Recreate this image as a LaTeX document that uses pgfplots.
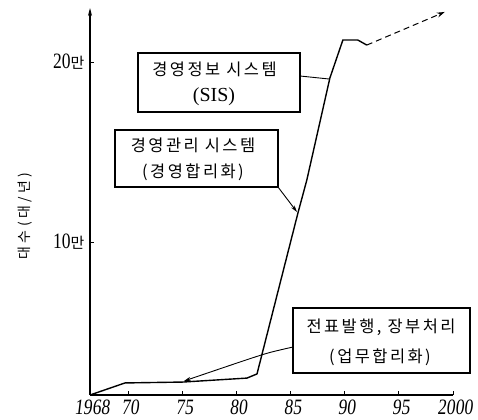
\documentclass[border=0pt]{standalone}
\usepackage{fontspec}
\usepackage{pgfplots}
\pgfplotsset{compat=1.18}
\usetikzlibrary{arrows.meta}
\setmainfont{Liberation Serif}
\newfontfamily\cjk[LetterSpace=15]{Noto Sans CJK KR}
\newfontfamily\tickfont[FakeStretch=0.8]{Liberation Serif}
\newfontfamily\xtickfont[FakeStretch=0.8,FakeSlant=0.12]{Liberation Serif}
\begin{document}
\begin{tikzpicture}[x=1bp,y=1bp]
\useasboundingbox (0,0) rectangle (478,419);
\begin{axis}[at={(90bp,24bp)}, anchor=south west, scale only axis,
  width=363bp, height=387bp,
  xmin=1966.48, xmax=2000, ymin=1.5, ymax=23,
  axis lines=left,
  axis line style={line width=1.2pt},
  x axis line style={-},
  y axis line style={-{Stealth[length=8pt,width=4pt]}},
  xtick={1966.48,1970,1975,1980,1985,1990,1995,2000},
  xticklabels={1968,70,75,80,85,90,95,2000},
  ytick={10,20},
  yticklabels={{\tickfont\fontsize{22}{22}\selectfont 10\cjk\fontsize{15}{15}\selectfont 만},{\tickfont\fontsize{22}{22}\selectfont 20\cjk\fontsize{15}{15}\selectfont 만}},
  tick align=inside, major tick length=4bp,
  tick style={line width=0.8pt, black},
  xticklabel style={font=\xtickfont\fontsize{22}{22}\selectfont, inner sep=0pt, anchor=north, yshift=-5bp, xshift=2bp},
  yticklabel style={xshift=-2bp},
  clip=false]
\addplot[line width=1.4pt, black] coordinates {
 (1966.48,1.5) (1969.71,2.17) (1975.06,2.22) (1980.97,2.44) (1981.9,2.67)
 (1985.68,11.61) (1986.5,13.44) (1988.63,19.11) (1989.83,21.22)
 (1991.21,21.22) (1992.04,20.94)};
\addplot[line width=1pt, black, dash pattern=on 6bp off 4bp, -{Stealth[length=8pt,width=5pt]}]
 coordinates {(1992.04,20.94) (1999.24,22.78)};
\end{axis}
% y label
\node[rotate=90] at (25,203) {\cjk\addfontfeature{LetterSpace=25}\fontsize{14}{14}\selectfont 대수(대/년)};
% box 1
\draw[line width=1.2bp] (138,366) rectangle (300,307);
\node at (214.5,350) {\cjk\fontsize{16.5}{16.5}\selectfont 경영정보 시스템};
\node at (214,322) {\fontsize{20}{20}\selectfont (SIS)};
\draw[line width=0.9bp] (300,343) -- (329,340);
% box 2
\draw[line width=1.2bp] (115,289) rectangle (278,232);
\node at (193,274) {\cjk\fontsize{16.5}{16.5}\selectfont 경영관리 시스템};
\node at (193,247) {\cjk\fontsize{16.5}{16.5}\selectfont (경영합리화)};
\draw[line width=0.9bp, -{Stealth[length=7pt,width=4pt]}] (278,232) -- (297,207);
% box 3
\draw[line width=1.2bp] (293,111) rectangle (470,46);
\node at (381,92) {\cjk\fontsize{16.5}{16.5}\selectfont 전표발행, 장부처리};
\node at (380,62) {\cjk\fontsize{16.5}{16.5}\selectfont (업무합리화)};
\draw[line width=0.9bp, -{Stealth[length=7pt,width=4pt]}] plot[smooth] coordinates {(293,72) (268,66) (240,57) (184,38)};
\end{tikzpicture}
\end{document}
